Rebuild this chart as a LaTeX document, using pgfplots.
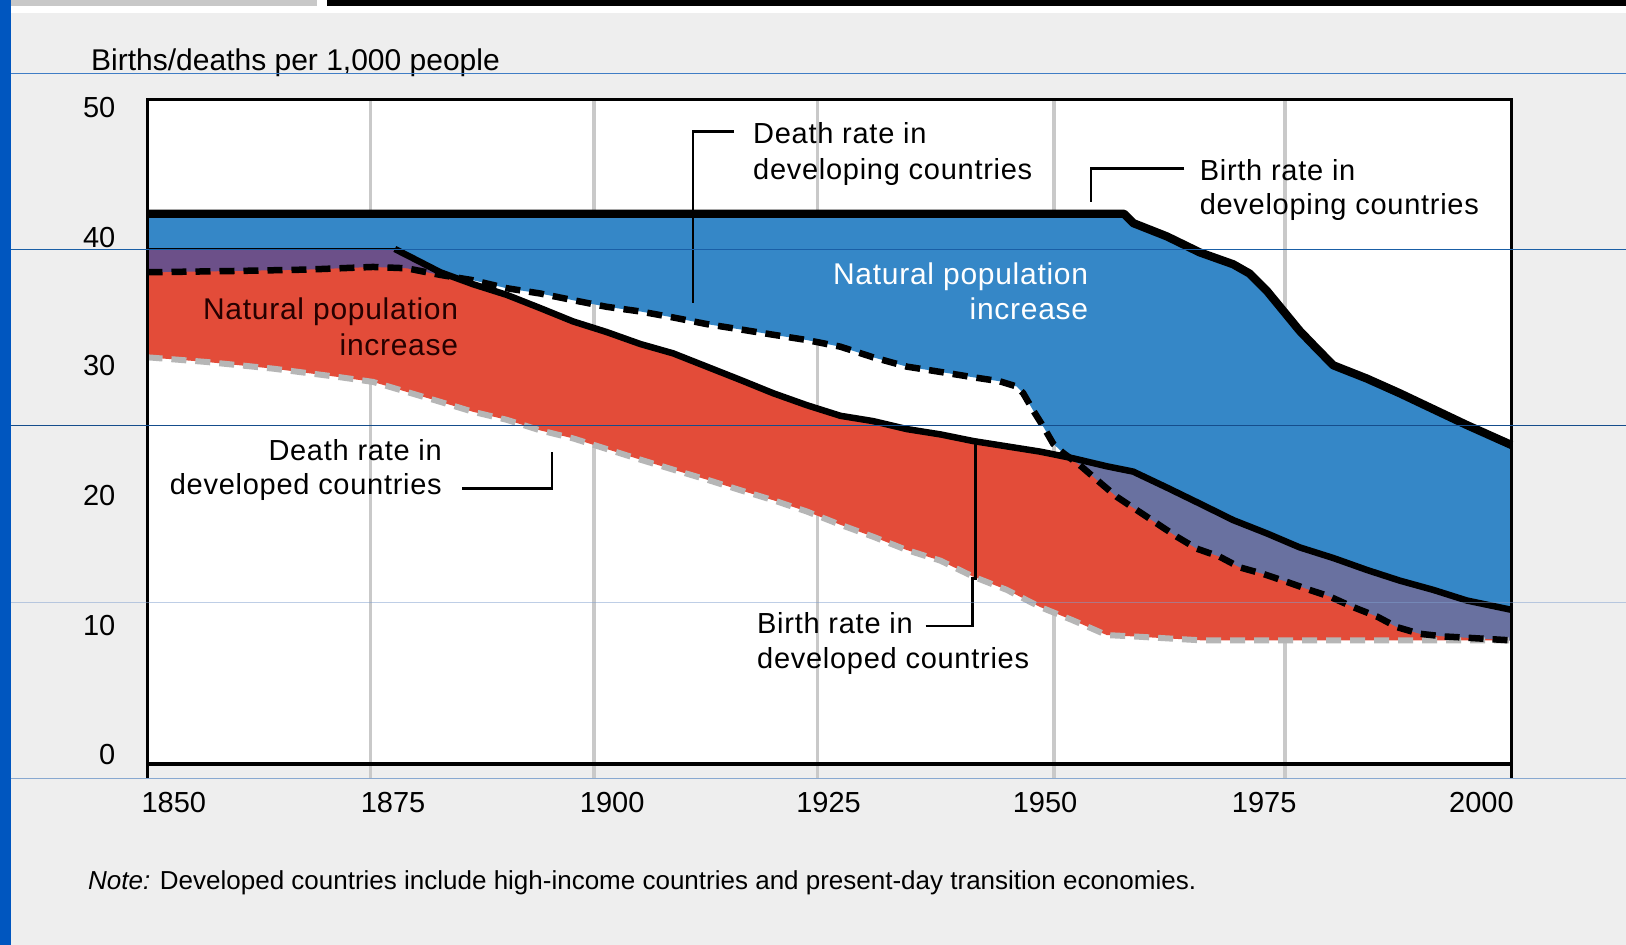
\documentclass[border=0pt]{standalone}
\usepackage{pgfplots}
\pgfplotsset{compat=1.18}
\usepgfplotslibrary{fillbetween}
\usepackage{pgfplotstable}
\usepackage{fontspec}
\setmainfont{Liberation Sans}
\definecolor{bgc}{HTML}{EEEEEE}
\definecolor{barg}{HTML}{C8C8C8}
\definecolor{blueF}{HTML}{3587C7}
\definecolor{redF}{HTML}{E34C39}
\definecolor{purpL}{HTML}{6C5089}
\definecolor{purpR}{HTML}{6971A0}
\definecolor{gridg}{HTML}{C9C9C9}
\definecolor{dashg}{HTML}{B6B6B6}
\definecolor{slA}{HTML}{3F7DC5}
\definecolor{slB}{HTML}{1A5FA6}
\definecolor{slC}{HTML}{154D8C}
\definecolor{slD}{HTML}{7F9FCF}
\definecolor{slE}{HTML}{88A8D0}
\pagecolor{bgc}
\newcommand{\fa}{\fontsize{29}{35}\selectfont}
\newcommand{\fs}{\fontsize{29}{35}\selectfont\addfontfeature{LetterSpace=2.5}}
\newcommand{\fb}{\fontsize{30}{35}\selectfont}
\newcommand{\fl}{\fontsize{30}{35}\selectfont\addfontfeature{LetterSpace=2.4}}
\newcommand{\fn}{\fontsize{26}{30}\selectfont}

\pgfplotstableread{
x y
1850 41.4
1957.4 41.4
1958.4 40.7
1962.1 39.7
1965.7 38.5
1969.4 37.6
1971.2 36.9
1973.1 35.6
1974.9 34.1
1976.7 32.6
1978.6 31.25
1980.4 30.0
1984.1 29.0
1987.7 27.9
1991.4 26.7
1995.1 25.5
2000 24.0
}\bdv

\pgfplotstableread{
x y
1850 38.75
1877.2 38.75
1878.5 38.3
1882.2 37.0
1885.8 36.1
1889.5 35.3
1893.2 34.3
1896.8 33.3
1900.5 32.5
1904.2 31.6
1907.8 30.9
1911.5 29.9
1915.2 28.9
1918.8 27.9
1922.5 27.0
1926.2 26.2
1929.8 25.8
1933.5 25.2
1937.2 24.8
1940.8 24.3
1944.5 23.9
1948.2 23.5
1951.8 23.0
1955.5 22.4
1958.4 22.0
1962.1 20.8
1965.7 19.6
1969.4 18.35
1973.1 17.35
1976.7 16.3
1980.4 15.5
1984.1 14.6
1987.7 13.8
1991.4 13.1
1995.1 12.3
2000 11.6
}\bdd

\pgfplotstableread{
x y
1850 37.0
1860 37.1
1867.5 37.2
1874.8 37.4
1878.5 37.3
1882.2 36.8
1885.8 36.4
1889.5 35.8
1893.2 35.4
1896.8 34.9
1900.5 34.4
1904.2 34.05
1907.8 33.6
1911.5 33.1
1915.2 32.7
1918.8 32.3
1922.5 31.9
1926.2 31.4
1929.8 30.6
1933.5 29.9
1937.2 29.5
1940.8 29.1
1943.7 28.8
1945.6 28.4
1946.3 27.9
1947.4 26.6
1948.5 25.4
1949.6 24.1
1950.7 23.4
1952.5 22.5
1954.7 21.2
1956.6 20.1
1958.8 19.1
1961.0 18.1
1963.2 17.1
1965.4 16.2
1967.9 15.6
1970.1 14.8
1972.7 14.3
1975.3 13.7
1977.8 13.1
1980.0 12.6
1982.6 11.8
1985.2 11.1
1987.4 10.3
1989.9 9.8
1992.5 9.6
1995.1 9.5
2000 9.3
}\ddv

\pgfplotstableread{
x y
1850 30.6
1856.5 30.25
1863.8 29.75
1871.2 29.1
1874.8 28.75
1878.5 28.0
1882.2 27.25
1885.8 26.5
1889.5 25.9
1893.2 25.1
1896.8 24.5
1900.5 23.7
1904.2 22.9
1907.8 22.15
1911.5 21.4
1915.2 20.6
1918.8 19.85
1922.5 19.0
1926.2 18.0
1929.8 17.1
1933.5 16.1
1937.2 15.3
1940.8 14.1
1944.5 13.1
1948.2 11.8
1951.8 10.8
1955.5 9.7
1958.4 9.6
1966 9.3
2000 9.3
}\ddd

\pgfplotstableread{
x y
1850 38.75
1877.2 38.75
}\bddflat

\pgfplotstableread{
x y
1877.2 38.75
1878.5 38.3
1882.2 37.0
1885.8 36.1
1889.5 35.3
1893.2 34.3
1896.8 33.3
1900.5 32.5
1904.2 31.6
1907.8 30.9
1911.5 29.9
1915.2 28.9
1918.8 27.9
1922.5 27.0
1926.2 26.2
1929.8 25.8
1933.5 25.2
1937.2 24.8
1940.8 24.3
1944.5 23.9
1948.2 23.5
1951.8 23.0
1955.5 22.4
1958.4 22.0
1962.1 20.8
1965.7 19.6
1969.4 18.35
1973.1 17.35
1976.7 16.3
1980.4 15.5
1984.1 14.6
1987.7 13.8
1991.4 13.1
1995.1 12.3
2000 11.6
}\bddslope

\begin{document}%
\begin{tikzpicture}[x=1pt,y=1pt]
\path (0,0) rectangle (1626,945);
\fill[white] (10.7,932.3) rectangle (1626,945);
\fill[barg] (10.7,939) rectangle (317,945);
\fill[black] (327,939) rectangle (1626,945);
\fill[blue!55!cyan!75!black] (0,0) rectangle (10.7,945);

\begin{axis}[
  at={(147.5pt,181pt)}, anchor=south west,
  scale only axis, width=1364pt, height=664.5pt,
  xmin=1850, xmax=2000, ymin=0, ymax=50,
  clip=false,
  axis background/.style={fill=white},
  axis line style={draw=none},
  xtick={1850,1874.5,1899.1,1923.7,1949.7,1975.1,2000},
  xticklabels={,,,,,,},
  xtick pos=left,
  tick align=outside,
  major tick length=14pt,
  xmajorgrids=true,
  major grid style={draw=gridg, line width=3.5pt},
  x tick style={draw=gridg, line width=3.5pt},
  extra x ticks={1852.9,1877.0,1901.1,1924.9,1948.7,1972.8,1996.7},
  extra x tick labels={1850,1875,1900,1925,1950,1975,2000},
  extra x tick style={grid=none, major tick length=0pt, tick style={draw=none}},
  xticklabel style={font=\fa, anchor=north, inner sep=0pt, yshift=-27.7pt},
  ytick={0.68,10.45,20.2,30,39.6,49.4},
  yticklabels={0,10,20,30,40,50},
  y tick style={draw=none},
  yticklabel style={font=\fa, anchor=east, inner sep=0pt, xshift=-18pt},
]
\addplot[draw=none, name path=bdv] table {\bdv};
\addplot[draw=none, name path=bdd] table {\bdd};
\addplot[draw=none, name path=ddv] table {\ddv};
\addplot[draw=none, name path=ddd] table {\ddd};
\addplot[fill=blueF, draw=none] fill between[of=ddv and bdv];
\addplot[fill=redF, draw=none] fill between[of=ddd and bdd];
\addplot[fill=purpL, draw=none] fill between[of=ddv and bdd, soft clip={(axis cs:1850,0) rectangle (axis cs:1883.6,50)}];
\addplot[fill=purpR, draw=none] fill between[of=ddv and bdd, soft clip={(axis cs:1951.5,0) rectangle (axis cs:2000,50)}];
\addplot[dashg, line width=6pt, dash pattern=on 15pt off 9pt] table {\ddd};
\addplot[black, line width=1.5pt] table {\bddflat};
\addplot[black, line width=6.5pt, line join=round] table {\bddslope};
\addplot[black, line width=6.5pt, dash pattern=on 15pt off 9pt] table {\ddv};
\addplot[black, line width=8.3pt, line join=round] table {\bdv};
\draw[black, line width=3pt] ([yshift=-14pt]rel axis cs:0,0) -- (rel axis cs:0,1) -- (rel axis cs:1,1) -- ([yshift=-14pt]rel axis cs:1,0);
\draw[black, line width=3.5pt] (rel axis cs:0,0) -- (rel axis cs:1,0);
\end{axis}

% title
\node[anchor=base west, inner sep=0pt, font=\fb] at (91,874.3) {Births/deaths per 1,000 people};
% annotations
\node[anchor=base west, inner sep=0pt, font=\fs] at (753,801.7) {Death rate in};
\node[anchor=base west, inner sep=0pt, font=\fs] at (753,765.7) {developing countries};
\draw[line width=2.7pt] (734,813.3) -- (693,813.3) -- (693,641.7);
\node[anchor=base west, inner sep=0pt, font=\fs] at (1199.6,764.5) {Birth rate in};
\node[anchor=base west, inner sep=0pt, font=\fs] at (1199.6,730) {developing countries};
\draw[line width=2.7pt] (1184.4,776.2) -- (1091,776.2) -- (1091,743.3);
\node[anchor=base east, inner sep=0pt, font=\fs] at (442,484.5) {Death rate in};
\node[anchor=base east, inner sep=0pt, font=\fs] at (442,450) {developed countries};
\draw[line width=2.7pt] (462,456.7) -- (552,456.7) -- (552,493.3);
\node[anchor=base west, inner sep=0pt, font=\fs] at (757,311.7) {Birth rate in};
\node[anchor=base west, inner sep=0pt, font=\fs] at (757,276.7) {developed countries};
\draw[line width=2.7pt] (925.7,319) -- (972.3,319) -- (972.3,366.7) -- (975.7,366.7) -- (975.7,505);
\node[anchor=base east, inner sep=0pt, font=\fl, text=black!85!red] at (458.3,625.7) {Natural population};
\node[anchor=base east, inner sep=0pt, font=\fl, text=black!85!red] at (458.3,589.3) {increase};
\node[anchor=base east, inner sep=0pt, font=\fl, text=white] at (1088.3,660.7) {Natural population};
\node[anchor=base east, inner sep=0pt, font=\fl, text=white] at (1088.3,625.7) {increase};
% note
\node[anchor=base west, inner sep=0pt, font=\fn] at (88,55) {\textit{Note:} Developed countries include high-income countries and present-day transition economies.};
% slide lines
\draw[slA, line width=1.2pt] (10.7,871.7) -- (1626,871.7);
\draw[slB, line width=1.2pt] (10.7,695.8) -- (1626,695.8);
\draw[slC, line width=1.2pt] (10.7,519.8) -- (1626,519.8);
\draw[slD, line width=1.2pt, opacity=0.5] (10.7,342.7) -- (1626,342.7);
\draw[slE, line width=1.2pt] (10.7,166.7) -- (1626,166.7);
\pgfresetboundingbox
\useasboundingbox (0,0) rectangle (1626,945);
\end{tikzpicture}%
\end{document}
